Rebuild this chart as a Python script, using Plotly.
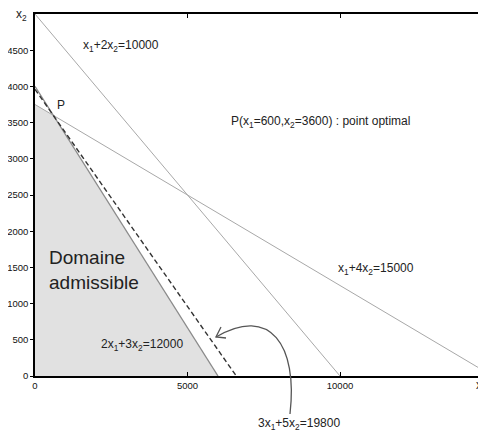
import plotly.graph_objects as go

# constraint lines a*x1 + b*x2 = c
lines_a = [1, 1, 2]
lines_b = [2, 4, 3]
lines_c = [10000, 15000, 12000]
# objective line at optimum
obj_a, obj_b, obj_c = 3, 5, 19800
# optimal point
p_x1, p_x2 = 600, 3600
# feasible region vertices
dom_x = [0, 0, 600, 6000, 0]
dom_y = [0, 3750, 3600, 0, 0]

x_ticks = [0, 5000, 10000]
y_ticks = [0, 500, 1000, 1500, 2000, 2500, 3000, 3500, 4000, 4500]

X_MAX, Y_MAX = 14787, 5000
# page has an 8px body margin; plot box in page pixels: left 35, top 14, right 486, bottom 376
W, H = 478, 424
L, R, T, B = 27, 0, 6, 56
PW, PH = W - L - R, H - T - B
PL, PB = 35, 376  # plot box left / bottom in page pixels

def px(x, y):
    return (x - PL) / PW, (PB - y) / PH

fig = go.Figure()
fig.add_trace(go.Scatter(x=dom_x, y=dom_y, fill="toself", fillcolor="#e1e1e1",
                         line=dict(width=0), mode="lines", hoverinfo="skip"))

line_colors = ["#a8a8a8", "#a8a8a8", "#8a8a8a"]
line_widths = [1, 1, 1.3]
for a, b, c, col, w in zip(lines_a, lines_b, lines_c, line_colors, line_widths):
    fig.add_trace(go.Scatter(x=[0, c / a], y=[c / b, 0], mode="lines",
                             line=dict(color=col, width=w), hoverinfo="skip"))

fig.add_trace(go.Scatter(x=[0, obj_c / obj_a], y=[obj_c / obj_b, 0], mode="lines",
                         line=dict(color="#333333", width=1.4, dash="5px,3px"),
                         hoverinfo="skip"))

ann_font = dict(family="Liberation Sans, Arial", size=12, color="#222222")

def text_at(x, y, text, size=12, **kw):
    xp, yp = px(x, y)
    d = dict(x=xp, y=yp, xref="paper", yref="paper", text=text, showarrow=False,
             xanchor="left", yanchor="middle", align="left",
             font=dict(family="Liberation Sans, Arial", size=size, color="#222222"))
    d.update(kw)
    fig.add_annotation(**d)

text_at(81, 46, "x<sub>1</sub>+2x<sub>2</sub>=10000")
fig.add_annotation(x=p_x1, y=p_x2, xref="x", yref="y", text="P", showarrow=False,
                   xanchor="left", yanchor="bottom", xshift=2, yshift=1, font=ann_font)
text_at(229, 122, "P(x<sub>1</sub>=600,x<sub>2</sub>=3600) : point optimal")
text_at(336, 269, "x<sub>1</sub>+4x<sub>2</sub>=15000")
text_at(99, 345, "2x<sub>1</sub>+3x<sub>2</sub>=12000")
text_at(256, 424, "3x<sub>1</sub>+5x<sub>2</sub>=19800")
text_at(47, 270, "Domaine<br>admissible", size=19)
text_at(14, 15, "x<sub>2</sub>")
text_at(484, 385, "x", xanchor="right")

# curved arrow
def p(pt):
    a, b = px(*pt)
    return f"{a:.4f},{b:.4f}"
curve = f"M {p((290,414))} C {p((298,345))} {p((270,305))} {p((216,337))}"
fig.add_shape(type="path", xref="paper", yref="paper", path=curve,
              line=dict(color="#555555", width=1.3))
head = f"M {p((221,327))} L {p((216,337))} L {p((226,338))}"
fig.add_shape(type="path", xref="paper", yref="paper", path=head,
              line=dict(color="#555555", width=1.3))

tick_font = dict(family="Liberation Sans, Arial", size=9.5, color="#111111")
fig.update_layout(
    width=W, height=H, margin=dict(l=L, r=R, t=T, b=B, autoexpand=False),
    paper_bgcolor="white", plot_bgcolor="white", showlegend=False,
    xaxis=dict(range=[0, X_MAX], tickvals=x_ticks, ticktext=[str(v) for v in x_ticks],
               automargin=False,
               showgrid=False, zeroline=False, showline=True, linecolor="black", linewidth=1.5,
               mirror="ticks", ticks="inside", ticklen=4, tickcolor="black", tickfont=tick_font),
    yaxis=dict(range=[0, Y_MAX], tickvals=y_ticks, ticktext=[str(v) for v in y_ticks],
               automargin=False,
               showgrid=False, zeroline=False, showline=True, linecolor="black", linewidth=1.5,
               ticks="outside", ticklen=3, tickcolor="black", tickfont=tick_font),
)
fig.write_html("out.html")
